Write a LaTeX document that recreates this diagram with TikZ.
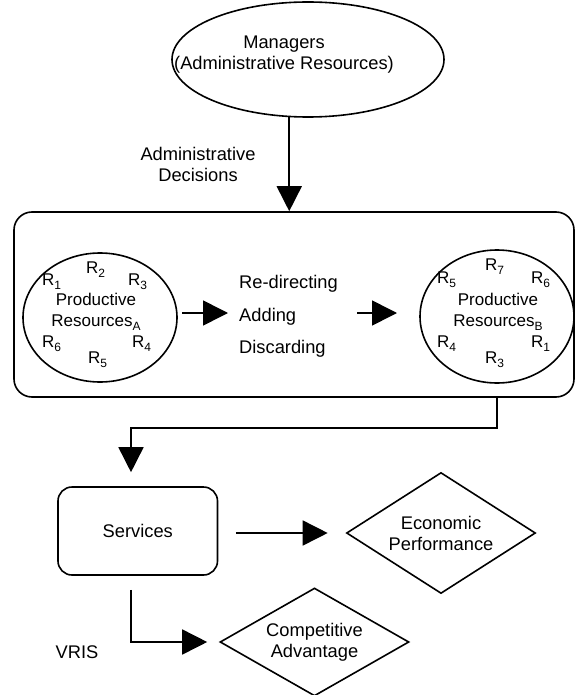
\documentclass[tikz,border=0pt]{standalone}
\usepackage{fontspec}
\setmainfont{Liberation Sans}
\usetikzlibrary{arrows.meta,shapes.geometric,calc}
\newcommand{\lowsub}[1]{\raisebox{-4pt}{\fontsize{12pt}{12pt}\selectfont #1}}
\begin{document}
\begin{tikzpicture}[x=1pt,y=1pt,
  every node/.style={font=\fontsize{18.3pt}{21pt}\selectfont},
  ln/.style={line width=1.6pt},
  arr/.style={ln,-{Triangle[length=25pt,width=25pt]}},
  txt/.style={inner sep=0pt, align=center},
  ctxt/.style={inner sep=0pt, align=center, font=\fontsize{17pt}{21pt}\selectfont},
  rl/.style={inner sep=0pt, anchor=base west, font=\fontsize{17pt}{21pt}\selectfont},
]
\useasboundingbox (0,0) rectangle (576,-695);
% managers
\node[ln, draw, ellipse, minimum width=272pt, minimum height=115pt] (mgr) at (308,-59.5) {};
\node[txt] (mgrt) at (284,-55) {Managers\\(Administrative Resources)};
\node[txt] (adl) at (198,-164) {Administrative\\Decisions};
% big box
\node[draw, ln, rounded corners=18pt, minimum width=560pt, minimum height=185pt] (box) at (294,-304.5) {};
\draw[arr] (mgr.252) -- (mgr.252 |- box.north);
% circles
\node[draw, ln, ellipse, minimum width=154pt, minimum height=129pt] (ca) at (100,-317.5) {};
\node[draw, ln, ellipse, minimum width=154pt, minimum height=133pt] (cb) at (497,-316.5) {};
\node[ctxt] (pa) at (96,-312) {Productive\\Resources\lowsub{A}};
\node[ctxt] (pb) at (498,-312) {Productive\\Resources\lowsub{B}};
% R labels A
\node[rl] (a2) at (86,-273) {R\lowsub{2}};
\node[rl] (a1) at (42,-285) {R\lowsub{1}};
\node[rl] (a3) at (128,-285) {R\lowsub{3}};
\node[rl] (a6) at (42,-347) {R\lowsub{6}};
\node[rl] (a4) at (132,-347) {R\lowsub{4}};
\node[rl] (a5) at (88,-363) {R\lowsub{5}};
% R labels B
\node[rl] (b7) at (485,-270) {R\lowsub{7}};
\node[rl] (b5) at (437,-283) {R\lowsub{5}};
\node[rl] (b6) at (531,-283) {R\lowsub{6}};
\node[rl] (b4) at (437,-347) {R\lowsub{4}};
\node[rl] (b1) at (531,-347) {R\lowsub{1}};
\node[rl] (b3) at (485,-363) {R\lowsub{3}};
% middle text
\node[rl, font=\fontsize{18.3pt}{21pt}\selectfont] (redir) at (239,-288) {Re-directing};
\node[rl, font=\fontsize{18.3pt}{21pt}\selectfont] (adding) at (239,-321) {Adding};
\node[rl, font=\fontsize{18.3pt}{21pt}\selectfont] (discard) at (239,-353) {Discarding};
\coordinate (a1s) at (182,-313);
\coordinate (a1e) at (228,-313);
\coordinate (a2s) at (357,-313);
\coordinate (a2e) at (397,-313);
\draw[arr] (a1s) -- (a1e);
\draw[arr] (a2s) -- (a2e);
% services
\node[draw, ln, rounded corners=14pt, minimum width=159.5pt, minimum height=88pt, align=center] (svc) at (137.75,-531) {Services};
\coordinate (jn) at (131,-428);
\draw[arr, shorten >=14pt] (box.south -| cb.center) |- (jn) -- (jn |- svc.north);
% diamonds
\node[draw, ln, diamond, shape aspect=1.56, minimum width=189pt, minimum height=121pt, inner sep=0pt, align=center] (econ) at (441,-533) {Economic\\Performance};
\node[draw, ln, diamond, shape aspect=1.75, minimum width=189pt, minimum height=108pt, inner sep=0pt, align=center] (comp) at (314.5,-642) {Competitive\\Advantage};
\draw[arr, shorten <=17.5pt, shorten >=18pt] (svc.east |- econ.west) -- (econ.west);
\draw[arr, shorten <=14pt, shorten >=12pt] (svc.south -| jn) |- (comp.west);
\node (vris) at (77,-652) {VRIS};
\end{tikzpicture}
\end{document}
